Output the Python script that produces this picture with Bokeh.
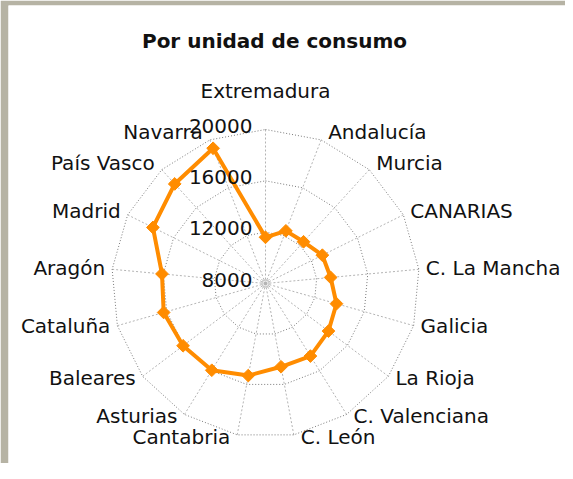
import numpy as np
from bokeh.plotting import figure
from bokeh.models import Range1d
from bokeh.core.properties import value
from bokeh.embed import file_html
from bokeh.resources import INLINE

title_text = "Por unidad de consumo"
categories = ["Extremadura", "Andalucía", "Murcia", "CANARIAS", "C. La Mancha",
              "Galicia", "La Rioja", "C. Valenciana", "C. León", "Cantabria",
              "Asturias", "Baleares", "Cataluña", "Aragón", "Madrid",
              "País Vasco", "Navarra"]
values = [11600, 12400, 12400, 12950, 13100, 13750, 14150, 14650, 14600,
          15300, 15950, 16050, 16250, 16100, 17800, 18500, 19300]
ring_values = [12000, 16000, 20000]
tick_values = [8000, 12000, 16000, 20000]
tick_labels = ["8000", "12000", "16000", "20000"]

R_MIN, R_MAX = 8000, 20000
RADIUS = 154
FONT = "DejaVu Sans"
ORANGE = "#FF8C00"

n = len(categories)
theta = np.arange(n) * 2 * np.pi / n


def rad(v):
    return (np.asarray(v, dtype=float) - R_MIN) / (R_MAX - R_MIN) * RADIUS


p = figure(width=565, height=463, x_range=Range1d(-257, 300), y_range=Range1d(-180, 278),
           output_backend="svg", toolbar_location=None,
           min_border_left=8, min_border_top=5, min_border_right=0, min_border_bottom=0)
p.axis.visible = False
p.grid.visible = False
p.outline_line_color = None
p.background_fill_color = "white"
p.border_fill_color = "#b6b3a4"

# spokes
xs = [[0, RADIUS * np.sin(t)] for t in theta]
ys = [[0, RADIUS * np.cos(t)] for t in theta]
p.multi_line(xs, ys, line_color="#b4b4b4", line_width=1, line_dash="2 2")

# rings
for rv in ring_values:
    r = rad(rv)
    rx = list(r * np.sin(theta)) + [r * np.sin(theta[0])]
    ry = list(r * np.cos(theta)) + [r * np.cos(theta[0])]
    p.line(rx, ry, line_color="#7a7a7a", line_width=1, line_dash="1 2")

p.scatter([0], [0], marker="circle", size=7, fill_color=None, line_color="#c8c8c8", line_width=1.5)

# series
r = rad(values)
sx = list(r * np.sin(theta)) + [r[0] * np.sin(theta[0])]
sy = list(r * np.cos(theta)) + [r[0] * np.cos(theta[0])]
p.line(sx, sy, line_color=ORANGE, line_width=4, line_join="round")
p.scatter(sx[:-1], sy[:-1], marker="square", angle=np.pi / 4, size=9,
          fill_color=ORANGE, line_color=ORANGE)

# category labels
lx, ly, la = [], [], []
for i, t in enumerate(theta):
    vx, vy = RADIUS * np.sin(t), RADIUS * np.cos(t)
    s, c = np.sin(t), np.cos(t)
    if i == 0:
        lx.append(0); ly.append(193); la.append("center")
    else:
        lx.append(vx + 7 * np.sign(s))
        ly.append(vy + 9 * max(c, 0) - 2 * max(-c, 0))
        la.append("left" if s > 0 else "right")
p.text(lx, ly, text=categories, text_align=la, text_baseline="middle",
       text_font=value(FONT), text_font_size="20px", text_color="#111111")

# radial tick labels
p.text([-13] * len(tick_values), list(rad(tick_values) + 4), text=tick_labels,
       text_align="right", text_baseline="middle",
       text_font=value(FONT), text_font_size="20px", text_color="#111111")

# title
p.text([9], [243], text=[title_text], text_align="center", text_baseline="middle",
       text_font=value(FONT), text_font_size="20px", text_font_style="bold",
       text_color="#111111")

open("out.html", "w").write(file_html(p, INLINE))
